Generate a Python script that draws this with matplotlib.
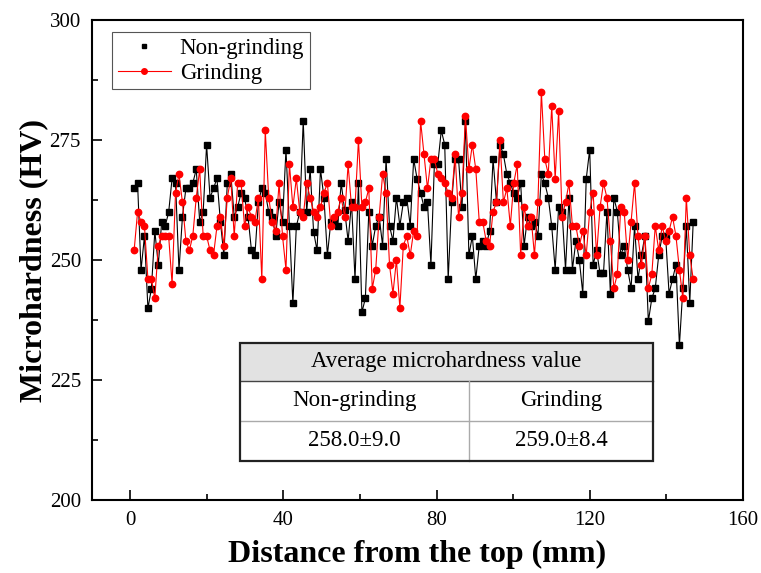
import numpy as np
import matplotlib
matplotlib.use("Agg")
import matplotlib.pyplot as plt
from matplotlib.lines import Line2D
from matplotlib.patches import Rectangle

# ---------------- data ----------------
non_grinding = [
    264.9, 266, 247.9, 255, 239.9, 244, 256, 249, 258, 257.1, 259.9, 267, 266, 247.9, 259, 264.9, 264.9, 266, 268.9, 258, 259.9, 274, 263, 264.9, 267,
    258, 251, 266, 268, 259, 261, 264, 263, 259, 252, 251, 262, 265, 264, 260, 259, 255, 262, 258, 273, 257, 241, 257, 260, 279, 260, 269,
    255.9, 252, 268.9, 263, 251, 258, 258, 257.1, 266, 260.4, 254, 262, 246, 266, 239.1, 242, 260.1, 253, 257.1, 259, 253, 271, 257.1, 254, 263, 257.1, 262, 263,
    257.1, 271, 266.9, 264, 261, 262, 249, 270, 270, 277, 274, 246, 262, 271, 271, 261, 279, 251, 255, 246, 253, 254, 253, 256, 271, 262, 274, 272,
    267.9, 266, 264, 263, 266, 253, 259, 257.1, 258, 255, 267.9, 266, 263, 257.1, 248, 261, 260.1, 248, 263, 248, 254, 250, 243, 266.9, 273, 249, 252,
    247.2, 247.2, 260.1, 243, 263, 260.1, 251, 253, 248, 244.1, 257.1, 246, 251, 255, 237.2, 242, 244.1, 251, 255, 255, 243, 246, 249, 232.2, 244.1, 257.1, 241.1, 258,
]
grinding = [
    252, 260, 258, 257, 246, 246, 242, 252.9, 255, 255, 255, 245, 264, 267.9, 262, 254, 252, 255, 263, 268.9, 255, 255, 252, 251, 257,
    259, 253, 263, 267, 255, 266, 266, 257, 261, 259, 258, 263, 246, 277, 263, 258, 256, 266, 255, 248, 270, 261, 267, 260, 259, 266, 263,
    260.1, 259, 261, 264, 266, 257.1, 259, 260.1, 263, 259, 269.9, 261, 261, 275, 261, 262, 264.9, 244, 248, 259, 267.9, 264, 249, 243, 250, 240, 253, 255,
    251, 256, 255, 279, 272, 264.9, 271, 271, 267.9, 267, 266, 264, 263, 272, 259, 264, 280, 268.9, 274, 268.9, 258, 258, 254, 253, 260.1, 262, 274.9, 262,
    264.9, 257.1, 266, 269.9, 251, 261, 257.1, 259, 251, 262, 285, 271, 267.9, 282, 266.9, 281, 259, 262, 266, 257.1, 257.1, 253, 256, 251, 260.1, 264, 251,
    261, 266, 263, 254, 244.1, 247, 261, 260.1, 250, 258, 266, 255, 249, 255, 244.1, 247, 257.1, 252, 257.1, 254, 256, 259, 255, 248, 242, 263, 251, 246,
]
x_start, x_end = 1.0, 147.0          # measured sampling range (mm)
distance = np.linspace(x_start, x_end, len(non_grinding))

series_labels = ["Non-grinding", "Grinding"]
x_ticks = [0, 40, 80, 120, 160]
y_ticks = [200, 225, 250, 275, 300]

table_title = "Average microhardness value"
table_columns = ["Non-grinding", "Grinding"]
table_values = ["258.0\u00b19.0", "259.0\u00b18.4"]

# ---------------- figure ----------------
plt.rcParams['font.family'] = ['Liberation Serif', 'DejaVu Serif']

fig = plt.figure(figsize=(7.61, 5.73), dpi=100)
ax = fig.add_axes([92 / 761, 73 / 573, 651 / 761, 480 / 573])

ax.plot(distance, non_grinding, color='black', lw=0.8, marker='s',
        ms=4.2, mfc='black', mec='black', zorder=3)
ax.plot(distance, grinding, color='red', lw=0.8, marker='o',
        ms=4.6, mfc='red', mec='red', zorder=4)

ax.set_xlim(-10, 160)
ax.set_ylim(200, 300)
ax.set_xticks(x_ticks)
ax.set_yticks(y_ticks)
ax.set_xticks([20, 60, 100, 140], minor=True)
ax.set_yticks([212.5, 237.5, 262.5, 287.5], minor=True)
ax.tick_params(which='both', direction='in', top=False, right=False,
               labelsize=15, width=1.2, pad=8)
ax.tick_params(which='major', length=7)
ax.tick_params(which='minor', length=4)
for s in ax.spines.values():
    s.set_linewidth(1.5)

ax.set_xlabel("Distance from the top (mm)", fontsize=23, fontweight='bold', labelpad=7)
ax.set_ylabel("Microhardness (HV)", fontsize=23, fontweight='bold', labelpad=1)

handles = [
    Line2D([], [], color='black', marker='s', ms=3.5, linestyle='none'),
    Line2D([], [], color='red', lw=0.8, marker='o', ms=4),
]
leg = ax.legend(handles, series_labels, loc='upper left',
                bbox_to_anchor=(0.031, 0.974), borderaxespad=0,
                fontsize=16.5, handlelength=2.3, handletextpad=0.4,
                labelspacing=0.15, borderpad=0.25, fancybox=False,
                framealpha=1)
leg.get_frame().set_edgecolor('#555555')
leg.get_frame().set_linewidth(0.8)

# ---------------- inset table ----------------
tx0, tx1, tdiv = 0.227, 0.862, 0.579
ty_top, ty_h, ty_r2, ty_bot = 0.327, 0.248, 0.165, 0.081
tr = ax.transAxes
ax.add_patch(Rectangle((tx0, ty_h), tx1 - tx0, ty_top - ty_h, transform=tr,
                       facecolor='#e2e2e2', edgecolor='none', zorder=5))
ax.add_patch(Rectangle((tx0, ty_bot), tx1 - tx0, ty_h - ty_bot, transform=tr,
                       facecolor='white', edgecolor='none', zorder=5))
ax.plot([tx0, tx1], [ty_h, ty_h], transform=tr, color='#444444', lw=1.0, zorder=6)
ax.plot([tx0, tx1], [ty_r2, ty_r2], transform=tr, color='#aaaaaa', lw=1.0, zorder=6)
ax.plot([tdiv, tdiv], [ty_bot, ty_h], transform=tr, color='#aaaaaa', lw=1.0, zorder=6)
ax.add_patch(Rectangle((tx0, ty_bot), tx1 - tx0, ty_top - ty_bot, transform=tr,
                       facecolor='none', edgecolor='#222222', lw=1.6, zorder=7))
ax.text((tx0 + tx1) / 2, (ty_top + ty_h) / 2, table_title, transform=tr,
        ha='center', va='center', fontsize=16.5, zorder=8)
for i, (c, v) in enumerate(zip(table_columns, table_values)):
    cx = (tx0 + tdiv) / 2 if i == 0 else (tdiv + tx1) / 2
    ax.text(cx, (ty_h + ty_r2) / 2, c, transform=tr, ha='center', va='center',
            fontsize=16.5, zorder=8)
    ax.text(cx, (ty_r2 + ty_bot) / 2, v, transform=tr, ha='center', va='center',
            fontsize=16.5, zorder=8)

fig.savefig("out.png", dpi=100)
